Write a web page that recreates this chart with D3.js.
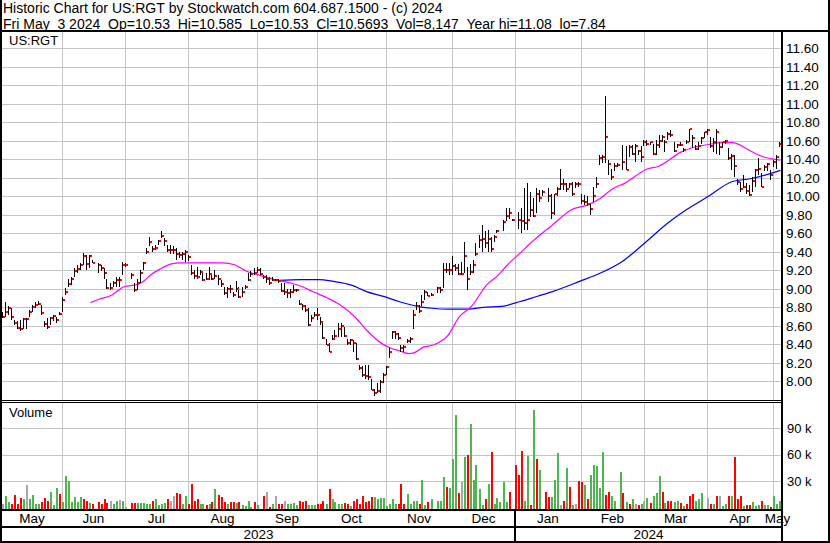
<!DOCTYPE html>
<html><head><meta charset="utf-8">
<script src="https://cdn.jsdelivr.net/npm/d3@7"></script>
<style>
body{margin:0;background:#fff}
svg{display:block}
text{font-family:"Liberation Sans",Arial,sans-serif;fill:#000}
</style>
</head><body>
<svg id="c" width="830" height="543"></svg>
<script>
// ---------------- DATA ----------------
const headerLine1 = "Historic Chart for US:RGT by Stockwatch.com 604.687.1500 - (c) 2024";
const headerLine2 = "Fri May  3 2024  Op=10.53  Hi=10.585  Lo=10.53  Cl=10.5693  Vol=8,147  Year hi=11.08  lo=7.84";
const symbol = "US:RGT";

const monthLabels = ["May","Jun","Jul","Aug","Sep","Oct","Nov","Dec","Jan","Feb","Mar","Apr","May"];
const monthBarCounts = [20,21,21,23,20,23,22,21,22,21,21,22,3];
const yearLabels = ["2023","2024"];
const yearBarCounts = [171,89];

const priceTicks = [8.0,8.2,8.4,8.6,8.8,9.0,9.2,9.4,9.6,9.8,10.0,10.2,10.4,10.6,10.8,11.0,11.2,11.4,11.6];
const volumeTicks = [30,60,90]; // thousands

const closes = [
 8.70,8.75,8.79,8.69,8.63,8.58,8.56,8.67,8.67,8.75,8.80,8.83,8.84,8.74,8.62,8.59,8.68,8.71,8.66,8.73,
 8.88,8.96,9.05,9.11,9.19,9.21,9.26,9.36,9.27,9.35,9.28,null,9.26,9.22,9.17,9.01,9.01,9.06,9.10,9.10,9.26,
 9.26,null,9.15,8.99,9.06,9.17,9.28,9.40,9.51,9.43,9.44,9.52,9.57,9.52,9.42,9.42,9.42,9.38,9.37,9.38,9.40,
 9.34,9.17,9.14,9.13,9.18,9.10,9.11,9.16,9.11,9.14,9.11,9.05,8.95,9.00,9.00,8.93,9.00,8.91,8.96,9.02,9.10,9.16,9.17,
 9.20,9.16,9.13,9.11,9.06,9.10,9.10,9.08,8.98,8.97,8.95,8.97,8.99,8.99,8.84,8.81,8.77,8.61,8.68,8.72,
 8.72,8.64,8.47,8.39,8.32,8.46,8.49,8.56,8.60,8.49,8.41,8.45,8.41,8.24,8.14,8.07,8.06,8.05,7.91,7.87,7.89,7.99,8.07,
 8.15,8.32,8.53,8.51,8.47,8.36,8.37,8.44,8.46,8.72,8.81,8.76,8.86,8.96,8.92,8.93,null,9.01,8.99,9.20,9.20,9.20,
 9.25,9.23,9.16,9.16,9.35,9.11,9.18,9.26,9.38,9.53,9.54,9.50,9.54,9.43,9.56,9.63,null,9.72,9.79,9.82,9.74,
 null,9.74,9.73,9.71,9.74,9.85,9.79,10.03,9.98,10.05,null,10.00,9.82,10.02,10.08,10.13,10.13,10.08,10.13,10.02,10.13,10.13,
 9.95,9.94,9.92,9.86,10.00,10.13,10.41,10.43,10.64,10.35,10.21,10.33,10.34,null,10.37,10.28,10.53,10.46,10.54,10.49,10.43,
 10.59,10.57,10.59,10.46,10.55,10.60,10.64,10.59,10.67,10.66,10.49,10.55,10.55,10.50,10.59,10.73,10.63,10.51,10.54,10.63,10.69,
 10.72,10.54,10.59,10.70,10.53,10.59,10.60,10.41,10.44,10.33,10.16,10.08,10.10,10.06,10.01,10.17,10.28,10.30,10.10,10.32,10.35,10.23,
 10.37,10.43,10.5693
];
const highs = [
 8.75,8.86,8.81,8.79,8.66,8.65,8.66,8.68,8.68,8.77,8.83,8.86,8.87,8.83,8.65,8.68,8.70,8.72,8.70,8.75,
 8.91,9.01,9.11,9.13,9.22,9.26,9.28,9.39,9.37,9.37,9.31,null,9.28,9.26,9.22,9.11,9.06,9.08,9.13,9.13,9.29,
 9.28,null,9.17,9.06,9.11,9.20,9.29,9.44,9.56,9.46,9.47,9.53,9.62,9.55,9.47,9.47,9.46,9.44,9.40,9.40,9.42,
 9.37,9.26,9.20,9.24,9.20,9.17,9.17,9.24,9.15,9.20,9.15,9.09,9.02,9.02,9.04,8.97,9.08,9.02,9.02,9.04,9.17,9.19,9.22,
 9.24,9.22,9.15,9.15,9.13,9.13,9.11,9.11,9.06,9.06,9.00,9.00,9.04,9.00,8.88,8.84,8.83,8.79,8.72,8.75,
 8.79,8.70,8.64,8.46,8.41,8.50,8.55,8.63,8.63,8.59,8.46,8.46,8.45,8.41,8.18,8.16,8.18,8.18,8.03,7.92,7.98,8.01,8.09,
 8.16,8.36,8.54,8.54,8.52,8.39,8.39,8.46,8.48,8.77,8.86,8.83,8.93,8.99,8.97,8.95,null,9.02,9.02,9.28,9.28,9.28,
 9.35,9.27,9.27,9.29,9.51,9.24,9.27,9.31,9.49,9.58,9.69,9.62,9.64,9.56,9.58,9.64,null,9.74,9.87,9.87,9.76,
 null,9.83,9.87,10.09,10.14,10.05,9.98,10.09,10.07,10.07,null,10.09,10.03,10.03,10.10,10.30,10.19,10.14,10.14,10.16,10.16,10.16,
 10.03,10.01,10.00,9.92,10.10,10.21,10.45,10.45,11.08,10.39,10.30,10.36,10.36,null,10.55,10.54,10.55,10.55,10.57,10.50,10.54,
 10.61,10.61,10.59,10.57,10.61,10.66,10.66,10.61,10.70,10.72,10.59,10.57,10.59,10.52,10.61,10.73,10.66,10.55,10.59,10.64,10.70,
 10.73,10.64,10.63,10.73,10.59,10.59,10.61,10.52,10.46,10.45,10.19,10.16,10.23,10.14,10.12,10.21,10.30,10.41,10.25,10.34,10.36,10.28,
 10.39,10.45,10.585
];
const lows = [
 8.68,8.70,8.72,8.66,8.61,8.56,8.54,8.57,8.57,8.70,8.75,8.79,8.83,8.72,8.59,8.57,8.61,8.65,8.63,8.72,
 8.75,8.93,9.02,9.04,9.13,9.17,9.20,9.26,9.20,9.22,9.28,null,9.17,9.19,9.11,9.00,8.99,9.02,9.02,9.02,9.15,
 9.24,null,9.11,8.97,8.99,9.06,9.20,9.38,9.46,9.40,9.42,9.47,9.55,9.46,9.40,9.38,9.38,9.31,9.33,9.31,9.29,
 9.30,9.15,9.11,9.11,9.15,9.08,9.10,9.10,9.10,9.11,9.04,9.02,8.93,8.90,8.95,8.91,8.97,8.90,8.91,9.00,9.08,9.13,9.15,
 9.17,9.15,9.11,9.06,9.04,9.08,9.08,9.06,8.97,8.93,8.90,8.90,8.95,8.97,8.82,8.77,8.75,8.60,8.64,8.70,
 8.66,8.61,8.46,8.39,8.32,8.45,8.45,8.48,8.48,8.48,8.39,8.39,8.32,8.23,8.12,8.05,8.03,8.01,7.91,7.84,7.87,7.87,7.98,
 8.07,8.25,8.46,8.46,8.45,8.32,8.32,8.41,8.41,8.57,8.77,8.74,8.81,8.88,8.92,8.92,null,8.95,8.95,9.01,9.17,9.15,
 9.15,9.19,9.15,9.15,9.17,8.99,9.15,9.17,9.35,9.44,9.40,9.44,9.40,9.40,9.51,9.60,null,9.62,9.73,9.76,9.73,
 null,9.65,9.60,9.64,9.64,9.78,9.78,9.82,9.94,10.00,null,9.94,9.76,9.80,10.00,10.07,10.07,10.05,10.09,10.00,10.09,10.10,
 9.92,9.91,9.89,9.80,9.94,10.09,10.34,10.36,10.36,10.23,10.18,10.27,10.32,null,10.28,10.28,10.43,10.45,10.37,10.45,10.37,
 10.54,10.54,10.55,10.45,10.45,10.52,10.59,10.48,10.61,10.64,10.48,10.52,10.54,10.48,10.57,10.59,10.52,10.50,10.50,10.57,10.63,
 10.66,10.52,10.48,10.46,10.45,10.52,10.57,10.39,10.28,10.21,10.12,10.05,10.09,10.03,10.00,10.05,10.10,10.23,10.10,10.27,10.27,10.18,
 10.32,10.30,10.53
];

// volume in thousands of shares, and day direction (1 up, -1 down, 0 unchanged)
const volumeK = [
 5,14,7,5,15,5,11,10,26,10,15,4,5,7,11,8,18.5,3,23,16,
 7,36.5,30,7,12,7,12,10,8,6,
 4,0,7,5,10,6,8,5,8,8.5,
 8,1,0,6,6,6,6,6,5,5,
 8,10,3,5,6,10,8,14,17,16,
 4,14,5,27.5,8,10,5,5,3,5,
 7,21,15,12,7,4,7,7,6,7,
 3,2,8,1,7,3,0,14,18,1,
 5,13,5,5,8,5,4,6,3,8,
 7,8,3,3,3,5,5,8,5,21,
 10,7,5,5,6,5,2,8,10,5,
 13,7,8,12,12,10,11,11,2,5,
 10,5,5,27,5,16,5,8,
 8,5,31,3,7,10,0,8,8,35,
 24,22,55,105,17,29,57,60,94,32,
 48,21,3,10,27,63,5,11,7,29,
 7,18,0,48,37,64.5,8,59,3,110,
 55,43,0,18,12,12,31,62,3,8,
 45,24,3,5,30,29,26,10,37,48,
 47,23,63,15,18,13,8,0,40,17,
 7,4,10,5,3,5,8,11,6,14,
 17,36,18,6,8,8,7,8,6,2,
 5,13,16,8,10,17,0,11,4,4,
 14,13,2,4,13,14,57,10,14,2,
 3,3,7,2,3,8,3,3,1,13,
 4,8
];
const volumeDir = [
 0,1,1,-1,-1,-1,-1,1,0,1,1,1,1,-1,-1,-1,1,1,1,-1,
 1,1,1,1,1,1,1,-1,-1,1,
 -1,0,-1,-1,-1,-1,0,1,1,0,
 1,0,0,-1,-1,1,1,1,1,1,
 -1,1,1,1,1,-1,0,0,-1,-1,
 1,1,-1,-1,-1,-1,1,1,-1,1,
 -1,1,-1,-1,-1,1,-1,-1,1,-1,
 1,1,1,1,-1,1,0,-1,0,-1,
 1,0,-1,-1,0,1,1,1,1,-1,
 -1,-1,1,1,1,-1,-1,-1,1,-1,
 1,1,1,1,-1,-1,1,-1,-1,-1,
 -1,-1,-1,-1,1,1,1,1,1,1,
 1,1,-1,-1,-1,1,1,1,
 1,-1,1,1,-1,1,0,1,1,1,
 -1,1,1,1,-1,0,1,-1,1,1,
 1,1,1,-1,1,-1,1,1,1,1,
 1,-1,0,-1,-1,-1,1,1,-1,1,
 -1,1,0,-1,-1,1,1,1,0,-1,
 1,-1,1,0,-1,-1,1,-1,1,1,
 1,1,1,-1,-1,1,1,0,1,-1,
 1,-1,1,0,-1,1,0,1,-1,1,
 1,1,-1,1,-1,-1,1,1,-1,1,
 -1,-1,-1,1,1,1,0,0,-1,1,
 -1,0,1,1,-1,1,-1,-1,-1,1,
 -1,-1,1,1,1,-1,1,1,-1,1,
 1,1
];

// moving averages: [bar index, price]
const maShort = [
 [29,8.85],[32,8.89],[36,8.93],[40,9.02],[45,9.05],[47,9.09],[49,9.15],[52,9.21],[56,9.27],[59,9.28],
 [66,9.28],[73,9.28],[77,9.26],[81,9.19],[85,9.15],[88,9.12],[91,9.095],[96,9.06],[99,9.03],[103,8.97],
 [108,8.90],[112,8.83],[117,8.70],[121,8.555],[126,8.41],[129,8.36],[132,8.33],[135,8.30],[137,8.31],[140,8.37],
 [143,8.39],[148,8.49],[152,8.70],[156,8.81],[161,9.04],[165,9.15],[168,9.26],[171,9.35],[178,9.56],[183,9.69],
 [189,9.85],[195,9.91],[199,9.98],[203,10.08],[207,10.14],[215,10.30],[218,10.32],[226,10.48],[229,10.52],[235,10.56],
 [240,10.58],[243,10.58],[249,10.49],[253,10.43],[259,10.39]
];
const maLong = [
 [92,9.09],[99,9.10],[105,9.10],[110,9.08],[116,9.04],[121,8.97],[127,8.915],[132,8.86],[138,8.81],[143,8.79],
 [148,8.78],[155,8.78],[160,8.80],[166,8.81],[172,8.86],[178,8.92],[183,8.97],[192,9.08],[199,9.17],[206,9.29],
 [215,9.53],[221,9.70],[226,9.82],[235,10.00],[243,10.16],[249,10.19],[255,10.24],[259,10.28]
];

// ---------------- DRAW ----------------
const svg = d3.select("#c");
const W = 830, H = 543;
const plotL = 2, plotR = 782;
const priceTop = 32, priceBot = 400, volTop = 403, volBot = 509;
const gridCol = "#c4c4c4";
const nb = s => s.replace(/ /g, "\u00a0");

svg.append("rect").attr("width", W).attr("height", H).attr("fill", "#fff");

const x = d3.scaleLinear().domain([0, closes.length]).range([plotL, plotR]);
const y = d3.scaleLinear().domain([8.0, 11.6]).range([381.3, 48.3]);
const yv = d3.scaleLinear().domain([0, 90]).range([508, 428]);

const cum = d3.cumsum(monthBarCounts);
const monthStarts = [0, ...Array.from(cum).slice(0, -1)];
const monthEnds = Array.from(cum);
const yearCum = Array.from(d3.cumsum(yearBarCounts));
const yearStarts = [0, ...yearCum.slice(0, -1)];

// horizontal price grid
const gH = svg.append("g").attr("transform", `translate(${plotL},0)`)
  .call(d3.axisRight(y).tickValues(priceTicks).tickSize(plotR - plotL).tickFormat(""));
gH.select(".domain").remove();
gH.selectAll("line").attr("stroke", gridCol).attr("shape-rendering", "crispEdges");

// horizontal volume grid
const gHV = svg.append("g").attr("transform", `translate(${plotL},0)`)
  .call(d3.axisRight(yv).tickValues(volumeTicks).tickSize(plotR - plotL).tickFormat(""));
gHV.select(".domain").remove();
gHV.selectAll("line").attr("stroke", gridCol).attr("shape-rendering", "crispEdges");

// vertical month grid (price and volume panels)
[[priceTop, priceBot], [volTop, volBot]].forEach(([t, b]) => {
  const g = svg.append("g").attr("transform", `translate(0,${t})`)
    .call(d3.axisBottom(x).tickValues(monthStarts.slice(1)).tickSize(b - t).tickFormat(""));
  g.select(".domain").remove();
  g.selectAll("line").attr("stroke", gridCol).attr("shape-rendering", "crispEdges");
});

// moving averages
const line = d3.line().x(d => x(d[0]) + 1.5).y(d => y(d[1])).curve(d3.curveMonotoneX);
svg.append("path").datum(maLong).attr("d", line).attr("fill", "none")
  .attr("stroke", "#0000ff").attr("stroke-width", 1.2);
svg.append("path").datum(maShort).attr("d", line).attr("fill", "none")
  .attr("stroke", "#ff00ff").attr("stroke-width", 1.2);

// price bars
const bars = closes.map((c, i) => ({i, c, h: highs[i], l: lows[i]})).filter(d => d.c != null);
const gB = svg.append("g").attr("shape-rendering", "crispEdges");
gB.selectAll("line").data(bars).join("line")
  .attr("x1", d => Math.floor(x(d.i)) + 0.5).attr("x2", d => Math.floor(x(d.i)) + 0.5)
  .attr("y1", d => Math.round(y(d.h))).attr("y2", d => Math.max(Math.round(y(d.l)), Math.round(y(d.h)) + 2))
  .attr("stroke", "#000").attr("stroke-width", 1);
gB.selectAll("rect").data(bars).join("rect")
  .attr("x", d => Math.floor(x(d.i)) + 1).attr("y", d => Math.round(y(d.c)) - 1)
  .attr("width", 2).attr("height", 2).attr("fill", "#ff0000");

// volume bars
const vols = volumeK.map((v, i) => ({i, v, d: volumeDir[i]})).filter(d => d.v > 0);
const volColor = d => d.d > 0 ? "#4fb54f" : d.d < 0 ? "#ff0000" : "#a8a8a8";
svg.append("g").attr("shape-rendering", "crispEdges").selectAll("rect").data(vols).join("rect")
  .attr("x", d => Math.floor(x(d.i))).attr("width", 2)
  .attr("y", d => Math.min(Math.round(yv(d.v)), volBot - 1))
  .attr("height", d => volBot - Math.min(Math.round(yv(d.v)), volBot - 1))
  .attr("fill", volColor);

// frame lines
const blk = (x0, y0, w, h) => svg.append("rect").attr("x", x0).attr("y", y0).attr("width", w).attr("height", h)
  .attr("fill", "#000").attr("shape-rendering", "crispEdges");
blk(0, 0, 2, H);            // left edge
blk(0, 30, W, 2);           // under header
blk(828, 0, 2, H);          // right edge
blk(0, 541, W, 2);          // bottom edge
blk(781, 30, 2, 513);       // right axis line
blk(0, 400, 782, 1);        // panel separator
blk(0, 402, 782, 1);
blk(0, 509, 782, 2);        // volume bottom
blk(0, 526, 782, 2);        // months / years separator
blk(Math.floor(x(yearCum[0])) - 1, 509, 2, 32); // year divider

// price axis labels
const gPA = svg.append("g").attr("transform", `translate(783,0)`)
  .call(d3.axisRight(y).tickValues(priceTicks).tickSize(0).tickPadding(3).tickFormat(d3.format(".2f")));
gPA.select(".domain").remove();
gPA.selectAll("text").attr("font-size", 13.5).attr("font-family", "Liberation Sans, Arial, sans-serif").attr("fill", "#000");

// volume axis labels
const gVA = svg.append("g").attr("transform", `translate(783,0)`)
  .call(d3.axisRight(yv).tickValues(volumeTicks).tickSize(0).tickPadding(4).tickFormat(d => d + " k"));
gVA.select(".domain").remove();
gVA.selectAll("text").attr("font-size", 13).attr("font-family", "Liberation Sans, Arial, sans-serif").attr("fill", "#000");

// month labels
svg.append("g").selectAll("text").data(monthLabels).join("text")
  .attr("x", (d, i) => (x(monthStarts[i]) + x(monthEnds[i])) / 2)
  .attr("y", 523).attr("text-anchor", "middle").attr("font-size", 13.5).text(d => d);

// year labels
svg.append("g").selectAll("text").data(yearLabels).join("text")
  .attr("x", (d, i) => (x(yearStarts[i]) + x(yearCum[i])) / 2)
  .attr("y", 539).attr("text-anchor", "middle").attr("font-size", 13.5).text(d => d);

// header + panel labels
svg.append("text").attr("x", 3).attr("y", 12.8).attr("font-size", 14).text(nb(headerLine1));
svg.append("text").attr("x", 3).attr("y", 28.5).attr("font-size", 14).text(nb(headerLine2));
svg.append("text").attr("x", 9).attr("y", 45).attr("font-size", 13).text(symbol);
svg.append("text").attr("x", 9).attr("y", 417).attr("font-size", 13).text("Volume");
</script>
</body></html>
